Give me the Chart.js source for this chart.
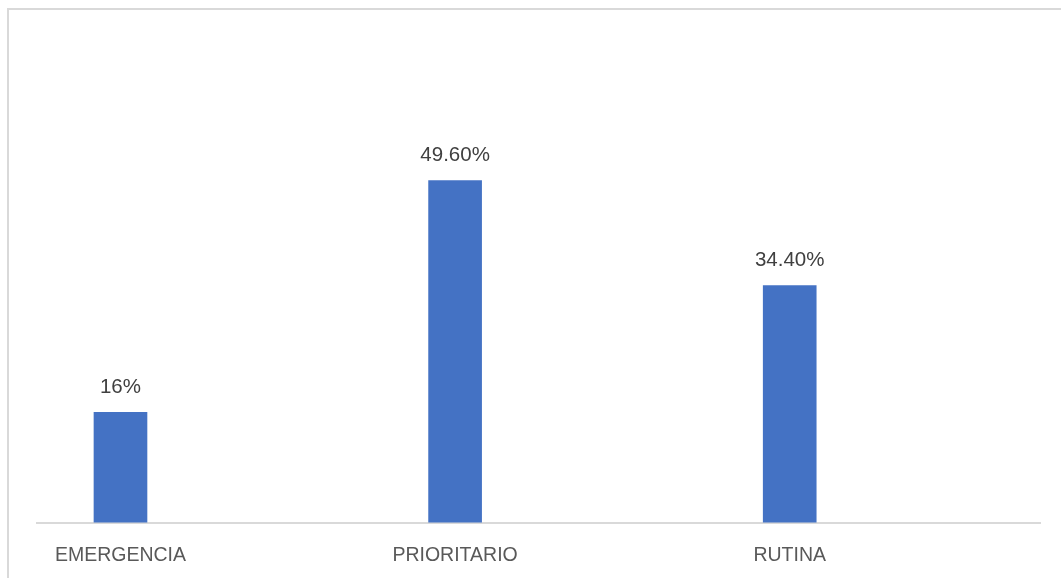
<!DOCTYPE html>
<html>
<head>
    <title>Distribución por prioridad</title>
    <script src="https://cdn.jsdelivr.net/npm/chart.js"></script>
    <style>
        body {
            margin: 0;
            background: #fff;
            overflow: hidden;
            font-family: "Liberation Sans", Arial, sans-serif;
        }
        .frame {
            position: absolute;
            left: 7px;
            top: 8px;
            width: 1100px;
            height: 600px;
            border-top: 2px solid #d9d9d9;
            border-left: 2px solid #d9d9d9;
        }
        #wrap {
            position: absolute;
            left: 0;
            top: 0;
            width: 1061px;
            height: 578px;
            overflow: hidden;
        }
    </style>
</head>
<body>
    <div class="frame"></div>
    <div id="wrap"><canvas id="priorityChart" width="1061" height="600"></canvas></div>

    <script>
        var categories = ['EMERGENCIA', 'PRIORITARIO', 'RUTINA'];
        var percentages = [16, 49.6, 34.4];
        var valueLabels = ['16%', '49.60%', '34.40%'];

        // writes the percentage above each bar
        var valueLabelPlugin = {
            id: 'valueLabels',
            afterDatasetsDraw: function(chart) {
                var ctx = chart.ctx;
                var meta = chart.getDatasetMeta(0);
                ctx.save();
                ctx.font = '20.5px "Liberation Sans", Arial, sans-serif';
                ctx.fillStyle = '#404040';
                ctx.textAlign = 'center';
                ctx.textBaseline = 'bottom';
                meta.data.forEach(function(bar, i) {
                    ctx.fillText(valueLabels[i], bar.x, bar.y - 15);
                });
                ctx.restore();
            }
        };

        var ctx = document.getElementById('priorityChart').getContext('2d');
        var priorityChart = new Chart(ctx, {
            type: 'bar',
            data: {
                datasets: [{
                    data: percentages.map(function(v, i) { return { x: i, y: v }; }),
                    backgroundColor: '#4472c4',
                    barThickness: 53
                }]
            },
            options: {
                responsive: false,
                animation: false,
                layout: {
                    padding: { left: 37, right: 21, top: 109, bottom: 12 }
                },
                plugins: {
                    legend: { display: false },
                    tooltip: { enabled: false }
                },
                scales: {
                    x: {
                        type: 'linear',
                        offset: false,
                        min: -0.2495,
                        max: 2.748,
                        afterBuildTicks: function(scale) {
                            scale.ticks = categories.map(function(c, i) { return { value: i }; });
                        },
                        grid: { display: false, drawTicks: false },
                        border: { display: true, color: '#d9d9d9', width: 2 },
                        ticks: {
                            padding: 21,
                            color: '#595959',
                            font: { family: '"Liberation Sans", Arial, sans-serif', size: 19.5 },
                            maxRotation: 0,
                            autoSkip: false,
                            callback: function(value) { return categories[value]; }
                        }
                    },
                    y: {
                        display: false,
                        min: 0,
                        max: 60
                    }
                }
            },
            plugins: [valueLabelPlugin]
        });
    </script>
</body>
</html>
